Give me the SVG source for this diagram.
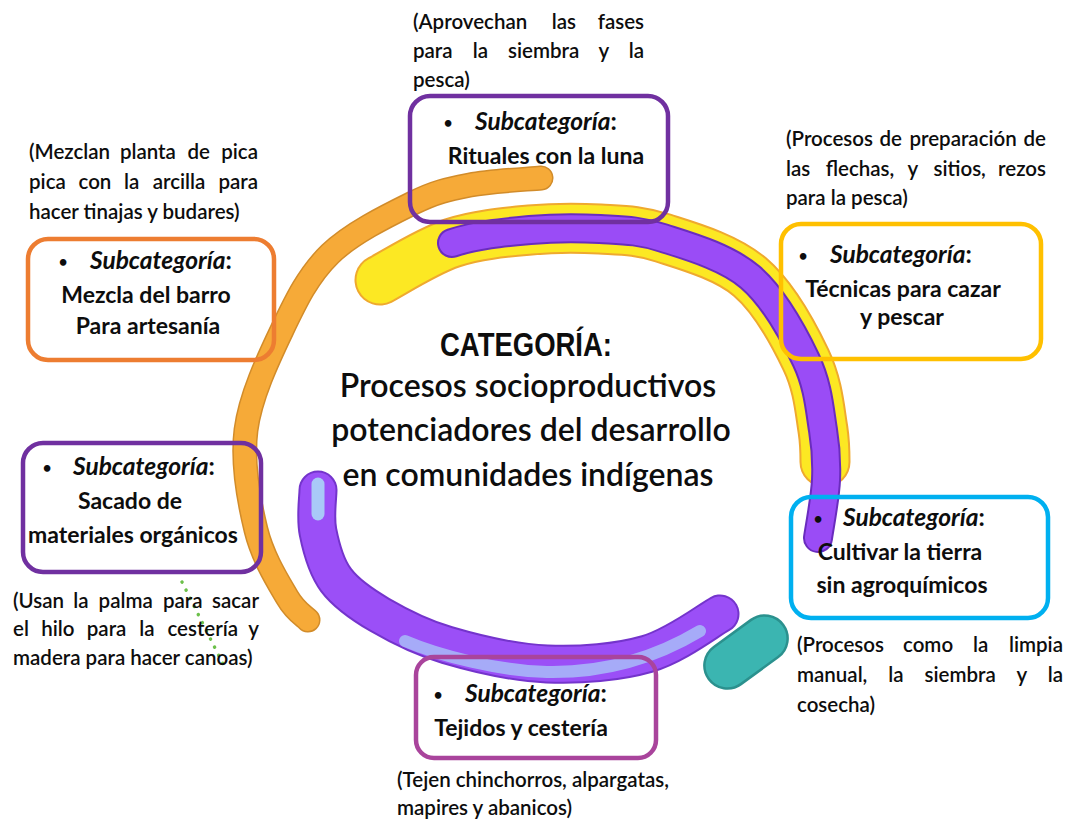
<svg xmlns="http://www.w3.org/2000/svg" width="1073" height="821" viewBox="0 0 1073 821">
<style>
.t{font-family:Lato,"Noto Sans","Liberation Sans",sans-serif;fill:#0d0d0d}
.a{font-size:20.5px;font-weight:600}
.b{font-size:23px;font-weight:700}
.s{font-size:24.5px;font-weight:700}
.d{font-size:15px;font-weight:700;text-anchor:middle}
.c{font-size:32px;font-weight:600;text-anchor:middle}
.i{font-style:italic}
.m{text-anchor:middle}
.e{text-anchor:end}
.box{fill:none;stroke-width:4.5}
.arc{fill:none;stroke-linecap:round}
</style>
<rect width="1073" height="821" fill="#ffffff"/>
<g id="ring">
  <path class="arc" stroke="#D28C2A" stroke-width="25" d="M541,178 C529.2,179.2 491.3,180.8 470,185 C448.7,189.2 436.3,191.5 413,203 C389.7,214.5 351.8,232.8 330,254 C308.2,275.2 296,300.7 282,330 C268,359.3 250.3,396.7 246,430 C241.7,463.3 249.2,502.2 256,530 C262.8,557.8 278.3,582 287,597 C295.7,612 304.5,616.2 308,620"/>
  <path class="arc" stroke="#F6AA38" stroke-width="22" d="M541,178 C529.2,179.2 491.3,180.8 470,185 C448.7,189.2 436.3,191.5 413,203 C389.7,214.5 351.8,232.8 330,254 C308.2,275.2 296,300.7 282,330 C268,359.3 250.3,396.7 246,430 C241.7,463.3 249.2,502.2 256,530 C262.8,557.8 278.3,582 287,597 C295.7,612 304.5,616.2 308,620"/>
  <path class="arc" stroke="#EFA92F" stroke-width="51" d="M380,280 C392,273.8 427,251.3 452,243 C477,234.7 505.3,232.3 530,230 C554.7,227.7 577.8,227.7 600,229 C622.2,230.3 638,230 663,238 C688,246 726.2,256.7 750,277 C773.8,297.3 793.8,334.5 806,360 C818.2,385.5 819.7,410 823,430 C824.5,440 825,450 825,462"/>
  <path class="arc" stroke="#FCE823" stroke-width="47" d="M380,280 C392,273.8 427,251.3 452,243 C477,234.7 505.3,232.3 530,230 C554.7,227.7 577.8,227.7 600,229 C622.2,230.3 638,230 663,238 C688,246 726.2,256.7 750,277 C773.8,297.3 793.8,334.5 806,360 C818.2,385.5 819.7,410 823,430 C824.5,440 825,450 825,462"/>
  <path class="arc" stroke="#6A2CBE" stroke-width="30" d="M452,243 C477,234.7 505.3,232.3 530,230 C554.7,227.7 577.8,227.7 600,229 C622.2,230.3 638,230 663,238 C688,246 726.2,256.7 750,277 C773.8,297.3 793.8,334.5 806,360 C818.2,385.5 819.7,410 823,430 C826.3,450 826.8,462 826,480 C825.2,498 819.3,528.3 818,538"/>
  <path class="arc" stroke="#9A4CF6" stroke-width="26" d="M452,243 C477,234.7 505.3,232.3 530,230 C554.7,227.7 577.8,227.7 600,229 C622.2,230.3 638,230 663,238 C688,246 726.2,256.7 750,277 C773.8,297.3 793.8,334.5 806,360 C818.2,385.5 819.7,410 823,430 C826.3,450 826.8,462 826,480 C825.2,498 819.3,528.3 818,538"/>
  <path class="arc" stroke="#7434CC" stroke-width="39" d="M318,490 C318,497 315,517 318,532 C321,547 325.7,566.2 336,580 C346.3,593.8 361.5,604.2 380,615 C398.5,625.8 419.2,636.8 447,645 C474.8,653.2 513.7,662.5 547,664 C580.3,665.5 618.2,662.3 647,654 C675.8,645.7 707.8,620.7 720,614"/>
  <path class="arc" stroke="#9B4FF7" stroke-width="35" d="M318,490 C318,497 315,517 318,532 C321,547 325.7,566.2 336,580 C346.3,593.8 361.5,604.2 380,615 C398.5,625.8 419.2,636.8 447,645 C474.8,653.2 513.7,662.5 547,664 C580.3,665.5 618.2,662.3 647,654 C675.8,645.7 707.8,620.7 720,614"/>
  <path class="arc" stroke="#A9C9F8" stroke-width="13" d="M318,484 L318,514"/>
  <path class="arc" stroke="#A9C9F8" stroke-width="12" opacity="0.75" d="M405,641 C440,656 500,671 547,672 C600,673 650,661 700,631"/>
  <rect x="700" y="629" width="92" height="46" rx="23" transform="rotate(-36 746 652)" fill="#3BB5B1" stroke="#2B918E" stroke-width="2.5"/>
</g>
<g id="connectors">
  <path d="M182,582 L226,670" fill="none" stroke="#6CC04A" stroke-width="3.5" stroke-dasharray="0.1 9" stroke-linecap="round"/>
</g>
<g id="center">
  <text x="526" y="356" text-anchor="middle" textLength="172" lengthAdjust="spacingAndGlyphs" style="font-family:'Liberation Sans Narrow','Liberation Sans',sans-serif;font-weight:700;font-size:33px;fill:#0d0d0d">CATEGORÍA:</text>
  <text class="t c" x="528" y="397">Procesos socioproductivos</text>
  <text class="t c" x="531" y="441">potenciadores del desarrollo</text>
  <text class="t c" x="528" y="486">en comunidades indígenas</text>
</g>
<g id="node-rituales">
  <rect class="box" x="410" y="96" width="258" height="126" rx="20" stroke="#7030A0"/>
  <text class="t d" x="448" y="128">•</text>
  <text class="t s" x="475" y="130"><tspan class="i">Subcategoría</tspan>:</text>
  <text class="t b m" x="546" y="164">Rituales con la luna</text>
  <text class="t a" x="413" y="29">(Aprovechan</text>
  <text class="t a" x="551.7" y="29">las</text>
  <text class="t a e" x="644" y="29">fases</text>
  <text class="t a" x="413" y="58">para</text>
  <text class="t a" x="472.7" y="58">la</text>
  <text class="t a" x="508" y="58">siembra</text>
  <text class="t a" x="598.6" y="58">y</text>
  <text class="t a e" x="644" y="58">la</text>
  <text class="t a" x="413" y="87">pesca)</text>
</g>
<g id="node-mezcla">
  <rect class="box" x="28" y="239" width="246" height="121" rx="20" stroke="#ED7D31"/>
  <text class="t d" x="63" y="267">•</text>
  <text class="t s" x="90" y="269"><tspan class="i">Subcategoría</tspan>:</text>
  <text class="t b m" x="146" y="303">Mezcla del barro</text>
  <text class="t b m" x="148" y="334">Para artesanía</text>
  <text class="t a" x="29" y="159">(Mezclan</text>
  <text class="t a" x="119.9" y="159">planta</text>
  <text class="t a" x="187.5" y="159">de</text>
  <text class="t a e" x="258" y="159">pica</text>
  <text class="t a" x="29" y="189">pica</text>
  <text class="t a" x="78.5" y="189">con</text>
  <text class="t a" x="124.1" y="189">la</text>
  <text class="t a" x="152.7" y="189">arcilla</text>
  <text class="t a e" x="258" y="189">para</text>
  <text class="t a" x="29" y="219">hacer tinajas y budares)</text>
</g>
<g id="node-tecnicas">
  <rect class="box" x="781" y="224" width="260" height="135" rx="20" stroke="#FFC000"/>
  <text class="t d" x="803" y="261">•</text>
  <text class="t s" x="830" y="263"><tspan class="i">Subcategoría</tspan>:</text>
  <text class="t b m" x="903" y="297">Técnicas para cazar</text>
  <text class="t b m" x="902" y="325">y pescar</text>
  <text class="t a" x="786" y="146">(Procesos</text>
  <text class="t a" x="879.4" y="146">de</text>
  <text class="t a" x="909.4" y="146">preparación</text>
  <text class="t a e" x="1046" y="146">de</text>
  <text class="t a" x="786" y="176">las</text>
  <text class="t a" x="825.7" y="176">flechas,</text>
  <text class="t a" x="907.5" y="176">y</text>
  <text class="t a" x="933.5" y="176">sitios,</text>
  <text class="t a e" x="1046" y="176">rezos</text>
  <text class="t a" x="786" y="205">para la pesca)</text>
</g>
<g id="node-sacado">
  <rect class="box" x="23" y="443" width="238" height="129" rx="20" stroke="#7030A0"/>
  <text class="t d" x="47" y="473">•</text>
  <text class="t s" x="73" y="475"><tspan class="i">Subcategoría</tspan>:</text>
  <text class="t b m" x="130" y="509">Sacado de</text>
  <text class="t b m" x="133" y="543">materiales orgánicos</text>
  <text class="t a" x="13" y="608">(Usan</text>
  <text class="t a" x="73.3" y="608">la</text>
  <text class="t a" x="98.6" y="608">palma</text>
  <text class="t a" x="163" y="608">para</text>
  <text class="t a e" x="259" y="608">sacar</text>
  <text class="t a" x="13" y="636">el</text>
  <text class="t a" x="41.3" y="636">hilo</text>
  <text class="t a" x="86.8" y="636">para</text>
  <text class="t a" x="139.3" y="636">la</text>
  <text class="t a" x="167.4" y="636">cestería</text>
  <text class="t a e" x="259" y="636">y</text>
  <text class="t a" x="13" y="665">madera para hacer canoas)</text>
</g>
<g id="node-cultivar">
  <rect class="box" x="791" y="497" width="257" height="121" rx="20" stroke="#00B0F0"/>
  <text class="t d" x="818" y="524">•</text>
  <text class="t s" x="843" y="526"><tspan class="i">Subcategoría</tspan>:</text>
  <text class="t b m" x="900" y="560">Cultivar la tierra</text>
  <text class="t b m" x="902" y="593">sin agroquímicos</text>
  <text class="t a" x="797" y="652">(Procesos</text>
  <text class="t a" x="903" y="652">como</text>
  <text class="t a" x="973.1" y="652">la</text>
  <text class="t a e" x="1063" y="652">limpia</text>
  <text class="t a" x="797" y="682">manual,</text>
  <text class="t a" x="888.2" y="682">la</text>
  <text class="t a" x="924.6" y="682">siembra</text>
  <text class="t a" x="1016.4" y="682">y</text>
  <text class="t a e" x="1063" y="682">la</text>
  <text class="t a" x="797" y="712">cosecha)</text>
</g>
<g id="node-tejidos">
  <rect class="box" x="416" y="657" width="240" height="101" rx="18" stroke="#A9449C"/>
  <text class="t d" x="438" y="700">•</text>
  <text class="t s" x="465" y="702"><tspan class="i">Subcategoría</tspan>:</text>
  <text class="t b m" x="521" y="736">Tejidos y cestería</text>
  <text class="t a" x="397" y="787">(Tejen chinchorros, alpargatas,</text>
  <text class="t a" x="397" y="815">mapires y abanicos)</text>
</g>
</svg>
